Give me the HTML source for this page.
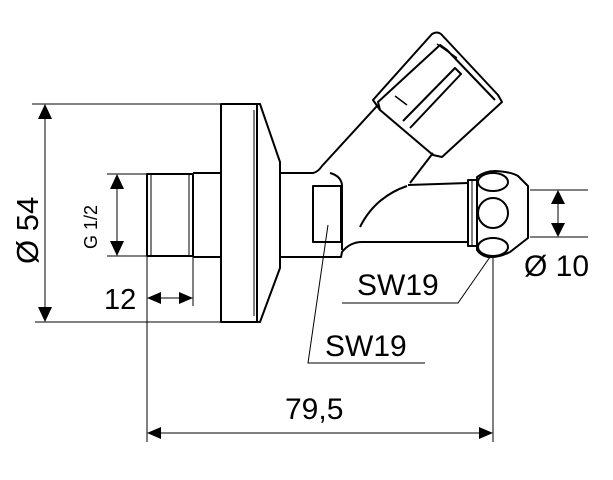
<!DOCTYPE html>
<html><head><style>html,body{margin:0;padding:0;background:#fff}svg{display:block}</style></head>
<body>
<svg width="613" height="480" viewBox="0 0 613 480" xmlns="http://www.w3.org/2000/svg" font-family="Liberation Sans, DejaVu Sans, sans-serif">
<g fill="none" stroke="#000" stroke-width="2" stroke-linejoin="round">
<rect x="147" y="174" width="46" height="82"/>
<line x1="151" y1="175" x2="151" y2="255" stroke-width="1"/>
<line x1="189" y1="175" x2="189" y2="255" stroke-width="1"/>
<polyline points="193,173 221,173"/><polyline points="193,257 221,257"/>
<rect x="221" y="104" width="36" height="218"/>
<polyline points="257,104 260,104 280,162 280,268 260,322 257,322"/>
<line x1="254" y1="110" x2="254" y2="316" stroke-width="1"/>
<path d="M280,173 L313,173 Q318,172 322,166 L377,106"/>
<path d="M280,257 L341,257 L342,252 Q350,242 362,242 L468,242"/>
<path d="M330,173 Q341,176 342,185 L342,250"/>
<path d="M408,185 L468,183"/>
<path d="M360,227 Q375,197 407,186"/>
<path d="M410,183 L433,153"/>
<rect x="313" y="186" width="28" height="56"/>
<path d="M373,100 L432,34 Q437,31 441,34 L498,95 L502,102 L442,157 L433,155 L380,110 Z"/>
<path d="M380,110 L378,102 L440,45 L447,50 L495,100"/>
<path d="M403,121 L455,68 L461,74 L410,128"/>
<line x1="395" y1="96" x2="407" y2="105" stroke-width="1.5"/>
<line x1="437" y1="44" x2="457" y2="58" stroke-width="1.5"/>
<rect x="468" y="180" width="9" height="66"/>
<line x1="472" y1="181" x2="472" y2="245" stroke-width="1"/>
<path d="M477,177 Q485,171 495,171 Q512,172 518,176 L528,186 L528,238 L510,252 Q498,258 488,257 Q480,255 477,250 Z"/>
<ellipse cx="493" cy="182" rx="15" ry="9"/>
<circle cx="493" cy="213" r="15"/>
<ellipse cx="493" cy="247" rx="15" ry="9"/>
</g>
<g fill="none" stroke="#000" stroke-width="1">
<line x1="32" y1="104" x2="221" y2="104"/>
<line x1="35" y1="322" x2="221" y2="322"/>
<line x1="107" y1="174" x2="146" y2="174"/>
<line x1="107" y1="256" x2="146" y2="256"/>
<line x1="147" y1="257" x2="147" y2="442"/>
<line x1="193" y1="257" x2="193" y2="306"/>
<line x1="493" y1="258" x2="493" y2="442"/>
<line x1="530" y1="190" x2="588" y2="190"/>
<line x1="530" y1="237" x2="588" y2="237"/>
<line x1="45" y1="110" x2="45" y2="316"/>
<line x1="117" y1="180" x2="117" y2="250"/>
<line x1="152" y1="298" x2="188" y2="298"/>
<line x1="152" y1="433" x2="488" y2="433"/>
<line x1="558" y1="196" x2="558" y2="231"/>
<polyline points="342,303 458,303 490,257"/>
<polyline points="425,363 308,363 328,225"/>
</g>
<g fill="#000">
<polygon points="45,104 38,119 52,119"/><polygon points="45,322 38,307 52,307"/>
<polygon points="117,174 110,189 124,189"/><polygon points="117,256 110,241 124,241"/>
<polygon points="147,298 161,292 161,304"/><polygon points="193,298 179,292 179,304"/>
<polygon points="147,433 161,427 161,439"/><polygon points="493,433 479,427 479,439"/>
<polygon points="558,190 551,204 565,204"/><polygon points="558,237 551,223 565,223"/>
</g>
<g fill="#000">
<text x="0" y="0" font-size="31" transform="translate(38,264) rotate(-90)">Ø 54</text>
<text x="0" y="0" font-size="18" transform="translate(97,249) rotate(-90)">G 1/2</text>
<text x="104" y="309" font-size="29">12</text>
<text x="357" y="295" font-size="30">SW19</text>
<text x="325" y="356" font-size="30">SW19</text>
<text x="285" y="419" font-size="30">79,5</text>
<text x="524" y="276" font-size="30">Ø 10</text>
</g>
</svg>
</body></html>
